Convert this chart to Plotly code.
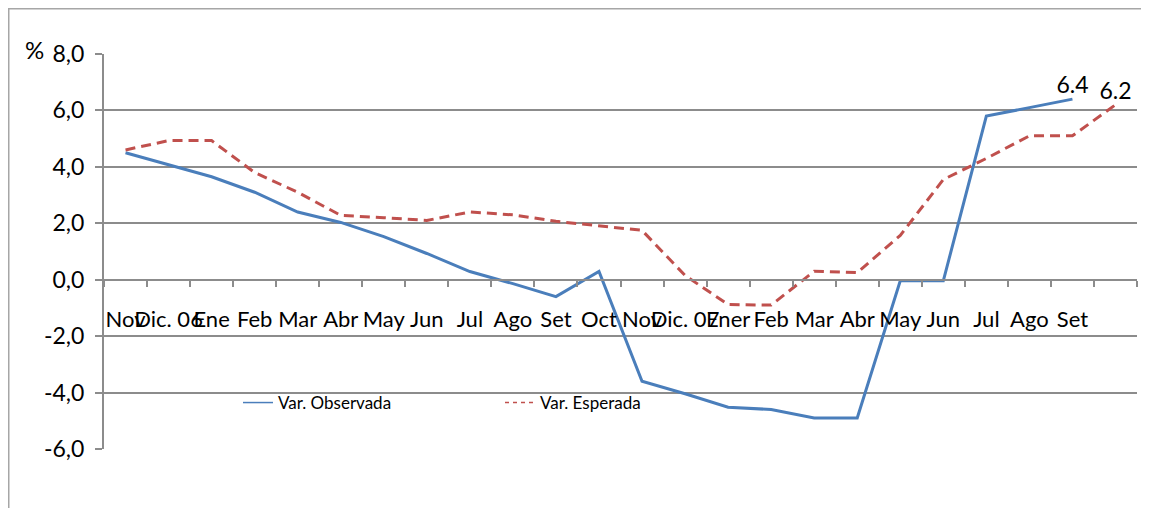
import plotly.graph_objects as go

month_labels = ["Nov", "Dic. 06", "Ene", "Feb", "Mar", "Abr", "May", "Jun", "Jul", "Ago", "Set",
                "Oct", "Nov", "Dic. 07", "Ener", "Feb", "Mar", "Abr", "May", "Jun", "Jul", "Ago", "Set"]
observada = [4.5, 4.07, 3.65, 3.1, 2.4, 2.03, 1.53, 0.93, 0.29, -0.14, -0.6,
             0.29, -3.6, -4.04, -4.52, -4.6, -4.9, -4.9, -0.04, -0.04, 5.8, 6.1, 6.4]
esperada = [4.6, 4.93, 4.93, 3.8, 3.1, 2.28, 2.2, 2.1, 2.4, 2.3, 2.07,
            1.9, 1.75, 0.15, -0.88, -0.9, 0.3, 0.25, 1.57, 3.55, 4.3, 5.1, 5.1, 6.2]
y_tickvals = [-6, -4, -2, 0, 2, 4, 6, 8]
y_ticktext = ["-6,0", "-4,0", "-2,0", "0,0", "2,0", "4,0", "6,0", "8,0"]

x_obs = list(range(len(observada)))
x_esp = list(range(len(esperada)))
text_obs = ["" if i < len(observada) - 1 else f"{v:.1f}" for i, v in enumerate(observada)]
text_esp = ["" if i < len(esperada) - 1 else f"{v:.1f}" for i, v in enumerate(esperada)]

BLUE = "#4A7EBB"
RED = "#C0504D"
GRID = "#8C8C8C"
FONT = "Lato"

# page has an 8px body margin; figure is sized/offset to compensate
OFF = 8
W, H = 1149 - OFF, 508 - OFF
L, T, R, B = 104 - OFF, 54 - OFF, 12, 59
PW = W - L - R
PH = H - T - B


def px_x(p):
    return (p - OFF - L) / PW


def px_y(p):
    return (H - B - (p - OFF)) / PH


fig = go.Figure()
fig.add_trace(go.Scatter(x=x_obs, y=observada, mode="lines+text", text=text_obs,
                         textposition="top center", textfont=dict(size=23, color="#000"),
                         line=dict(color=BLUE, width=3), showlegend=False, cliponaxis=False))
fig.add_trace(go.Scatter(x=x_esp, y=esperada, mode="lines+text", text=text_esp,
                         textposition="top center", textfont=dict(size=23, color="#000"),
                         line=dict(color=RED, width=3, dash="10px,6px"), showlegend=False,
                         cliponaxis=False))
# legend entries
fig.add_trace(go.Scatter(x=[None], y=[None], mode="lines", name="Var. Observada",
                         line=dict(color=BLUE, width=1.5)))
fig.add_trace(go.Scatter(x=[None], y=[None], mode="lines", name="Var. Esperada",
                         line=dict(color=RED, width=1.5, dash="4px,4px")))

n = len(esperada)
fig.update_layout(
    width=W, height=H,
    margin=dict(l=L, r=R, t=T, b=B, autoexpand=False),
    paper_bgcolor="white", plot_bgcolor="white",
    font=dict(family=FONT, size=22, color="#000"),
    xaxis=dict(
        range=[-0.5, n - 0.5], tickmode="array", tickvals=x_obs, ticktext=month_labels,
        tickangle=0, ticks="", showgrid=False, zeroline=False, automargin=False,
        showline=True, linecolor=GRID, linewidth=2,
        anchor="free", position=6 / 14, ticklabelstandoff=20,
        tickfont=dict(size=22),
        minor=dict(tickvals=[i - 0.5 for i in range(n + 1)], ticks="outside", ticklen=6,
                   tickcolor=GRID, tickwidth=2, showgrid=False),
    ),
    yaxis=dict(
        range=[-6, 8], tickmode="array", tickvals=y_tickvals, ticktext=y_ticktext,
        showgrid=True, gridcolor=GRID, gridwidth=2, zeroline=False, automargin=False,
        showline=True, linecolor=GRID, linewidth=2,
        ticks="outside", ticklen=7, tickcolor=GRID, tickwidth=2,
        ticklabelstandoff=6, tickfont=dict(size=23),
    ),
    legend=dict(orientation="h", x=px_x(238), y=px_y(403),
                xanchor="left", yanchor="middle", bgcolor="rgba(0,0,0,0)",
                font=dict(size=17), entrywidth=217, entrywidthmode="pixels"),
    shapes=[dict(type="rect", xref="paper", yref="paper",
                 x0=(0.75 - L) / PW, x1=1.05, y0=-0.3, y1=(H - B - 0.75) / PH,
                 line=dict(color="#A6A6A6", width=1.5), fillcolor="rgba(0,0,0,0)", layer="below")],
    annotations=[dict(text="%", xref="paper", yref="paper", x=px_x(34),
                      y=px_y(50), showarrow=False, font=dict(size=24),
                      xanchor="center", yanchor="middle")],
)

fig.write_html("out.html")
